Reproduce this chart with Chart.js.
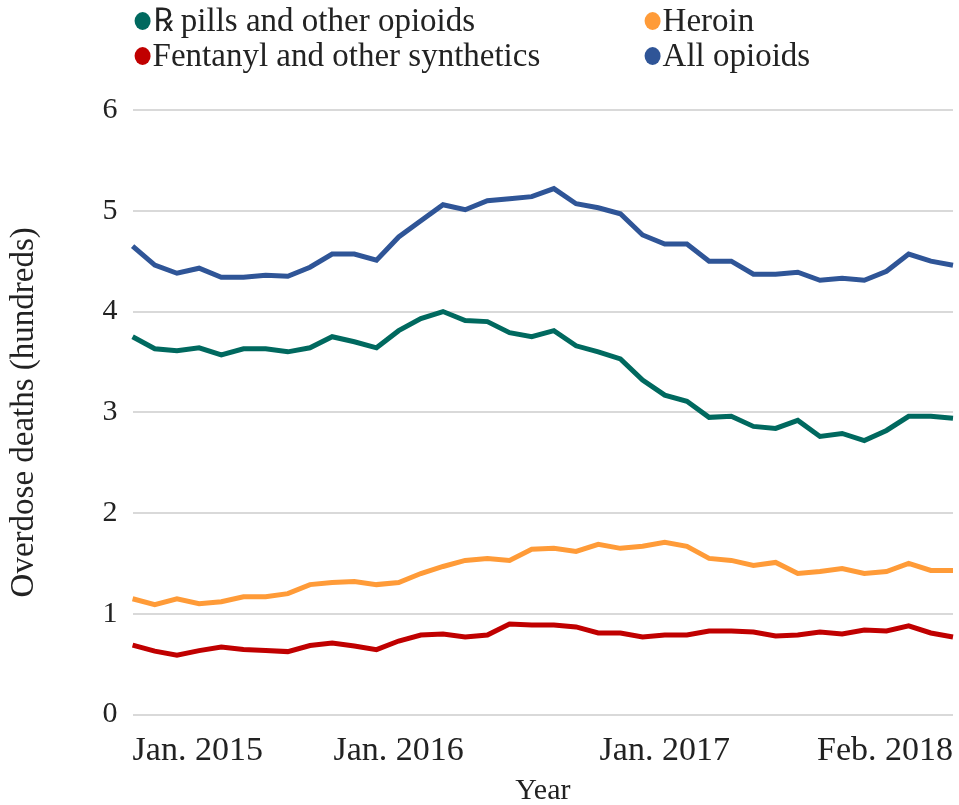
<!DOCTYPE html>
<html>
<head>
<meta charset="utf-8">
<script src="https://cdn.jsdelivr.net/npm/chart.js@4"></script>
<style>
  body { margin: 0; background: #fff; }
  #wrap { width: 959px; height: 805px; }
</style>
</head>
<body>
<div id="wrap"><canvas id="chart"></canvas></div>
<script>
// monthly values, Jan. 2015 .. Feb. 2018 (hundreds of deaths)
const months = [
  'Jan. 2015', 'Feb. 2015', 'Mar. 2015', 'Apr. 2015', 'May 2015', 'Jun. 2015',
  'Jul. 2015', 'Aug. 2015', 'Sep. 2015', 'Oct. 2015', 'Nov. 2015', 'Dec. 2015',
  'Jan. 2016', 'Feb. 2016', 'Mar. 2016', 'Apr. 2016', 'May 2016', 'Jun. 2016',
  'Jul. 2016', 'Aug. 2016', 'Sep. 2016', 'Oct. 2016', 'Nov. 2016', 'Dec. 2016',
  'Jan. 2017', 'Feb. 2017', 'Mar. 2017', 'Apr. 2017', 'May 2017', 'Jun. 2017',
  'Jul. 2017', 'Aug. 2017', 'Sep. 2017', 'Oct. 2017', 'Nov. 2017', 'Dec. 2017',
  'Jan. 2018', 'Feb. 2018'
];
const shownTicks = ['Jan. 2015', 'Jan. 2016', 'Jan. 2017', 'Feb. 2018'];

const rxPills = [3.75, 3.63, 3.61, 3.64, 3.57, 3.63, 3.63, 3.60, 3.64, 3.75, 3.70, 3.64,
  3.81, 3.93, 4.00, 3.91, 3.90, 3.79, 3.75, 3.81, 3.66, 3.60, 3.53, 3.32,
  3.17, 3.11, 2.95, 2.96, 2.86, 2.84, 2.92, 2.76, 2.79, 2.72, 2.82, 2.96, 2.96, 2.94];
const heroin = [1.15, 1.09, 1.15, 1.10, 1.12, 1.17, 1.17, 1.20, 1.29, 1.31, 1.32, 1.29,
  1.31, 1.40, 1.47, 1.53, 1.55, 1.53, 1.64, 1.65, 1.62, 1.69, 1.65, 1.67,
  1.71, 1.67, 1.55, 1.53, 1.48, 1.51, 1.40, 1.42, 1.45, 1.40, 1.42, 1.50, 1.43, 1.43];
const fentanyl = [0.69, 0.63, 0.59, 0.635, 0.67, 0.645, 0.635, 0.625, 0.685, 0.71, 0.68, 0.645,
  0.73, 0.79, 0.80, 0.77, 0.79, 0.90, 0.89, 0.89, 0.87, 0.81, 0.81, 0.77,
  0.79, 0.79, 0.83, 0.83, 0.82, 0.78, 0.79, 0.82, 0.80, 0.84, 0.83, 0.88, 0.81, 0.77];
const allOpioids = [4.65, 4.46, 4.38, 4.43, 4.34, 4.34, 4.36, 4.35, 4.44, 4.57, 4.57, 4.51,
  4.74, 4.90, 5.06, 5.01, 5.10, 5.12, 5.14, 5.22, 5.07, 5.03, 4.97, 4.76,
  4.67, 4.67, 4.50, 4.50, 4.37, 4.37, 4.39, 4.31, 4.33, 4.31, 4.40, 4.57, 4.50, 4.46];

const FONT = '"Liberation Serif", "DejaVu Serif", serif';
const TEXT = '#222222';

// legend in two columns, like the original (Chart.js legend can't do columns)
const gridLegend = {
  id: 'gridLegend',
  afterDraw(chart) {
    const ctx = chart.ctx;
    const area = chart.chartArea;
    const cols = [area.left + 10, area.left + 520];
    const rows = [21, 56];
    ctx.save();
    ctx.font = '33px ' + FONT;
    ctx.textBaseline = 'middle';
    ctx.textAlign = 'left';
    chart.data.datasets.forEach((ds, i) => {
      const x = cols[i % 2], y = rows[Math.floor(i / 2)];
      ctx.fillStyle = ds.borderColor;
      ctx.beginPath();
      ctx.ellipse(x, y, 8, 9, 0, 0, Math.PI * 2);
      ctx.fill();
      ctx.fillStyle = TEXT;
      ctx.fillText(ds.label, x + 10, y + 1);
    });
    ctx.restore();
  }
};

const line = (label, data, color) => ({
  label, data,
  borderColor: color,
  backgroundColor: color,
  borderWidth: 5,
  pointRadius: 0,
  tension: 0,
  fill: false
});

new Chart(document.getElementById('chart'), {
  type: 'line',
  data: {
    labels: months,
    datasets: [
      line('\u211E pills and other opioids', rxPills, '#00695f'),
      line('Heroin', heroin, '#ff9b38'),
      line('Fentanyl and other synthetics', fentanyl, '#c00000'),
      line('All opioids', allOpioids, '#2f5597')
    ]
  },
  options: {
    responsive: true,
    maintainAspectRatio: false,
    animation: false,
    layout: { padding: { top: 110, right: 6, left: 0, bottom: 0 } },
    plugins: {
      legend: { display: false },
      tooltip: { enabled: false }
    },
    scales: {
      x: {
        offset: false,
        // tick marks hidden with the grid, tickLength only makes the gap
        grid: { display: false, tickLength: 18 },
        border: { display: false },
        ticks: {
          autoSkip: false,
          maxRotation: 0,
          align: 'inner',
          padding: 0,
          color: TEXT,
          font: { family: FONT, size: 34, lineHeight: 1.1 },
          callback: function (v, i) {
            const l = this.getLabelForValue(v);
            return shownTicks.includes(l) ? l : '';
          }
        },
        title: {
          display: true, text: 'Year', color: TEXT,
          font: { family: FONT, size: 30, lineHeight: 0.9 },
          padding: { top: 8, bottom: 0 }
        }
      },
      y: {
        min: 0, max: 6,
        grid: { color: '#d9d9d9', lineWidth: 2, drawTicks: false },
        border: { display: false },
        ticks: {
          stepSize: 1,
          padding: 15,
          color: TEXT,
          font: { family: FONT, size: 30 }
        },
        title: {
          display: true, text: 'Overdose deaths (hundreds)', color: TEXT,
          font: { family: FONT, size: 33 },
          padding: { top: 5, bottom: 43 }
        }
      }
    }
  },
  plugins: [gridLegend]
});
</script>
</body>
</html>
